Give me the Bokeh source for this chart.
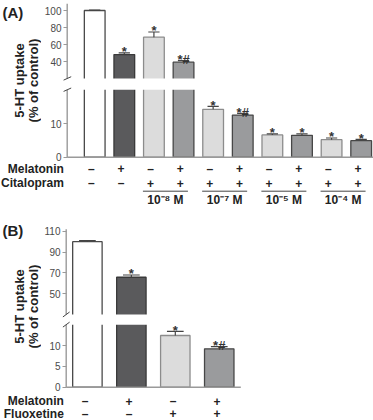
import math
from bokeh.plotting import figure
from bokeh.models import ColumnDataSource, FixedTicker
from bokeh.layouts import column, row
from bokeh.core.properties import value
from bokeh.embed import file_html
from bokeh.resources import INLINE

# ---------------- data: panel A (citalopram) ----------------
a_melatonin = ["–", "+", "–", "+", "–", "+", "–", "+", "–", "+"]
a_citalopram = ["–", "–", "+", "+", "+", "+", "+", "+", "+", "+"]
a_values = [100.0, 48.2, 68.6, 39.2, 14.2, 12.5, 6.6, 6.5, 5.2, 4.9]
a_errors = [0.4, 2.0, 6.1, 1.9, 0.9, 0.5, 0.3, 0.4, 0.5, 0.4]
a_marks = ["", "*", "*", "*#", "*", "*#", "*", "*", "*", "*"]
a_groups = ["10⁻⁸ M", "10⁻⁷ M", "10⁻⁵ M", "10⁻⁴ M"]
a_group_bars = [(3, 4), (5, 6), (7, 8), (9, 10)]
a_ticks = [0, 10, 40, 60, 80, 100]

# ---------------- data: panel B (fluoxetine) ----------------
b_melatonin = ["–", "+", "–", "+"]
b_fluoxetine = ["–", "–", "+", "+"]
b_values = [100.0, 65.8, 12.4, 9.2]
b_errors = [1.0, 2.2, 1.0, 0.55]
b_marks = ["", "*", "*", "*#"]
b_ticks = [0, 5, 10, 50, 70, 90, 110]

FONT = "Liberation Sans"
LEFT_W = 41        # width of the label strip
AXIS_W = 18.7      # expected width of the y axis panel
FRAME_L = LEFT_W + AXIS_W
FRAME_W = 313
TOTAL_W = 373

STYLE = {("–", "–"): ("#ffffff", "#4a4a4a"),
         ("+", "–"): ("#5a5a5c", "#3a3a3a"),
         ("–", "+"): ("#dcdcdc", "#8c8c8c"),
         ("+", "+"): ("#9a9b9d", "#474747")}


def broken_map(lo_scale, lo_max, hi_min, hi_start, hi_scale):
    def f(v):
        return v * lo_scale if v <= lo_max else hi_start + (v - hi_min) * hi_scale
    return f


def bare(width, height, xr, yr):
    p = figure(width=width, height=height, x_range=xr, y_range=yr,
               x_axis_location=None, y_axis_location=None, toolbar_location=None,
               output_backend="svg", min_border_left=0, min_border_right=0,
               min_border_top=0, min_border_bottom=0, title=None)
    p.outline_line_color = None
    p.grid.grid_line_color = None
    p.background_fill_color = "white"
    p.border_fill_color = "white"
    return p


def build(top_c, main_h, table_h, base_px, first_px, step_px, fmap, lo_max,
          hi_start, top_val, base_end_px, ticks, values, errors, marks, mel, drug,
          drug_name, rows_px, bar_w, letter, letter_py, ylabel_py,
          mark_dx, mark_dy, groups=None):
    X = lambda px: 1 + (px - first_px) / step_px
    Y = lambda py: base_px - py
    yr_main = (Y(top_c + main_h), Y(top_c))
    yr_tab = (Y(top_c + main_h + table_h), Y(top_c + main_h))

    # ---------- main plot ----------
    x0, x1 = X(FRAME_L), X(FRAME_L + FRAME_W)
    p = figure(frame_width=FRAME_W, frame_height=main_h, x_range=(x0, x1),
               y_range=yr_main, x_axis_location=None, toolbar_location=None,
               output_backend="svg", min_border_left=0, min_border_right=0,
               min_border_top=0, min_border_bottom=0, title=None)
    p.outline_line_color = None
    p.grid.grid_line_color = None
    p.background_fill_color = "white"
    p.border_fill_color = "white"

    ax = p.yaxis[0]
    pos = [fmap(t) for t in ticks]
    ax.ticker = FixedTicker(ticks=pos, minor_ticks=[])
    ax.major_label_overrides = {fp: str(t) for fp, t in zip(pos, ticks)}
    ax.axis_line_color = None
    ax.major_tick_line_color = "#9a9a9a"
    ax.major_tick_line_width = 1.2
    ax.major_tick_out = 0
    ax.major_tick_in = 4
    ax.minor_tick_line_color = None
    ax.major_label_text_font = FONT
    ax.major_label_text_font_size = "10px"
    ax.major_label_text_color = "#4a4a4a"
    ax.major_label_standoff = 2

    n = len(values)
    idx = list(range(1, n + 1))
    fills = [STYLE[(m, d)][0] for m, d in zip(mel, drug)]
    lines = [STYLE[(m, d)][1] for m, d in zip(mel, drug)]
    tops = [fmap(v) for v in values]
    etops = [fmap(v + e) for v, e in zip(values, errors)]

    spine_px = FRAME_L + 3.7
    xs = X(spine_px)
    p.segment(x0=[xs], y0=[0], x1=[xs], y1=[fmap(top_val)], line_color="#9a9a9a", line_width=1.4)
    src = ColumnDataSource(dict(l=[i - bar_w / 2 for i in idx], r=[i + bar_w / 2 for i in idx],
                                t=tops, f=fills, c=lines))
    p.quad(left="l", right="r", bottom=0, top="t", fill_color="f", line_color="c",
           line_width=1.3, source=src)
    cw = 0.19
    p.segment(x0=idx, y0=tops, x1=idx, y1=etops, line_color="#444444", line_width=1.2)
    p.segment(x0=[i - cw for i in idx], y0=etops, x1=[i + cw for i in idx], y1=etops,
              line_color="#444444", line_width=1.2)
    # gap of the broken axis
    p.quad(left=[x0], right=[x1], bottom=[fmap(lo_max)], top=[hi_start],
           fill_color="white", line_color=None)
    p.segment(x0=[xs], y0=[0], x1=[X(base_end_px)], y1=[0], line_color="#9a9a9a", line_width=1.5)
    ycs = [fmap(lo_max), hi_start]
    p.segment(x0=[X(spine_px - mark_dx)] * 2, y0=[y - mark_dy for y in ycs],
              x1=[X(spine_px + mark_dx)] * 2, y1=[y + mark_dy for y in ycs],
              line_color="#444444", line_width=1)
    p.text(x=idx, y=[e + 1.2 for e in etops], text=marks, text_font=value(FONT),
           text_font_style="bold", text_font_size="13px", text_align="center",
           text_baseline="alphabetic", text_color="#333333")

    # ---------- label strip on the left ----------
    lp = bare(LEFT_W, main_h, (X(0), X(LEFT_W)), yr_main)
    lp.text(x=[X(2.0)], y=[Y(letter_py)], text=[letter], text_font=value(FONT),
            text_font_style="bold", text_font_size="15px", text_align="left",
            text_baseline="middle", text_color="#222222")
    lp.text(x=[X(19.0), X(33.0)], y=[Y(ylabel_py)] * 2,
            text=["5-HT uptake", "(% of control)"], angle=math.pi / 2,
            text_font=value(FONT), text_font_style="bold", text_font_size="13px",
            text_align="center", text_baseline="middle", text_color="#222222")

    # ---------- treatment table ----------
    tp = bare(TOTAL_W, table_h, (X(0), X(TOTAL_W)), yr_tab)
    for row_py, signs, name in ((rows_px[0], mel, "Melatonin"), (rows_px[1], drug, drug_name)):
        tp.text(x=idx, y=[Y(row_py)] * n, text=signs, text_font=value(FONT),
                text_font_style="bold", text_font_size="12px", text_align="center",
                text_baseline="middle", text_color="#222222")
        tp.text(x=[X(63.3)], y=[Y(row_py)], text=[name], text_font=value(FONT),
                text_font_style="bold", text_font_size="12px", text_align="right",
                text_baseline="middle", text_color="#222222")
    if groups:
        names, pairs = groups
        half = 22.5 / step_px
        mids = [(a + b) / 2 for a, b in pairs]
        tp.segment(x0=[m - half for m in mids], y0=[Y(190.7)] * len(mids),
                   x1=[m + half for m in mids], y1=[Y(190.7)] * len(mids),
                   line_color="#444444", line_width=1)
        tp.text(x=mids, y=[Y(199.5)] * len(mids), text=names, text_font=value(FONT),
                text_font_style="bold", text_font_size="12px", text_align="center",
                text_baseline="middle", text_color="#222222")
    return column(row(lp, p, spacing=0), tp, spacing=0)


fA = broken_map(3.37, 20, 20, 78.7, 0.85)
panelA = build(top_c=0, main_h=162, table_h=52, base_px=156.7, first_px=90.9,
               step_px=29.61, fmap=fA, lo_max=20, hi_start=78.7, top_val=108,
               base_end_px=372, ticks=a_ticks, values=a_values, errors=a_errors,
               marks=a_marks, mel=a_melatonin, drug=a_citalopram, drug_name="Citalopram",
               rows_px=(168.3, 182.6), bar_w=0.7, letter="(A)", letter_py=11.5,
               ylabel_py=80, mark_dx=4, mark_dy=1.8, groups=(a_groups, a_group_bars))

fB = broken_map(4.17, 15, 30, 72.7, 1.04)
panelB = build(top_c=214, main_h=178, table_h=28, base_px=386.7, first_px=84.6,
               step_px=43.95, fmap=fB, lo_max=15, hi_start=72.7, top_val=112,
               base_end_px=238, ticks=b_ticks, values=b_values, errors=b_errors,
               marks=b_marks, mel=b_melatonin, drug=b_fluoxetine, drug_name="Fluoxetine",
               rows_px=(400.5, 413.2), bar_w=0.67, letter="(B)", letter_py=230,
               ylabel_py=306, mark_dx=3.4, mark_dy=2.5)

layout = column(panelA, panelB, spacing=0)
open("out.html", "w").write(file_html(layout, INLINE))
